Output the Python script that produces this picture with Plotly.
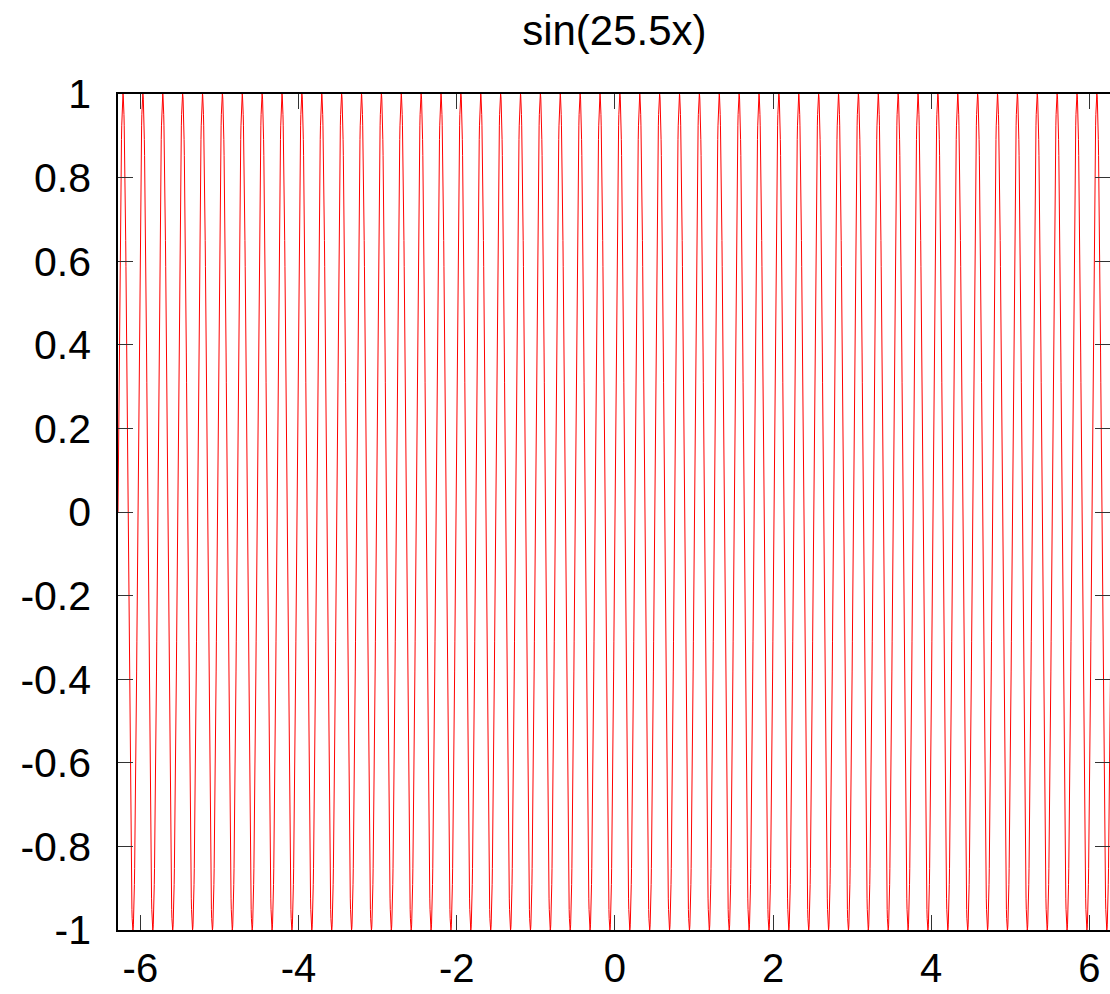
import numpy as np
import plotly.graph_objects as go

# Curve definition and axis annotations
title_text = "sin(25.5x)"
angular_freq = 25.0          # oscillation rate of the drawn curve
x_start, x_stop = -2 * np.pi, 2 * np.pi
n_samples = 4001

x_tick_vals = [-6, -4, -2, 0, 2, 4, 6]
x_tick_text = ["-6", "-4", "-2", "0", "2", "4", "6"]
y_tick_vals = [-1, -0.8, -0.6, -0.4, -0.2, 0, 0.2, 0.4, 0.6, 0.8, 1]
y_tick_text = ["-1", "-0.8", "-0.6", "-0.4", "-0.2", "0", "0.2", "0.4", "0.6", "0.8", "1"]

x = np.linspace(x_start, x_stop, n_samples)
y = np.sin(angular_freq * x)

font_family = "Liberation Sans, Arial, sans-serif"

fig = go.Figure(
    go.Scatter(
        x=x, y=y, mode="lines",
        line=dict(color="#ff0000", width=1),
        hoverinfo="skip", showlegend=False,
    )
)

axis_common = dict(
    showline=True, linecolor="black", linewidth=1.5,
    mirror="ticks", ticks="inside", ticklen=15, tickwidth=1, tickcolor="#333333",
    showgrid=False, zeroline=False, automargin=False,
)

# plot area spans 118..1110 px; 79.08 px per x unit
visible_x_max = x_start + (1110 - 118) / 79.08

fig.update_layout(
    width=1110, height=994,
    margin=dict(l=118, r=0, t=94, b=64, autoexpand=False),
    paper_bgcolor="white", plot_bgcolor="white",
    title=dict(
        text=title_text, x=0.5535, xanchor="center",
        y=1 - 30 / 994, yref="container", yanchor="middle",
        font=dict(family=font_family, size=42, color="black"),
    ),
    xaxis=dict(range=[x_start, visible_x_max], tickvals=x_tick_vals,
               ticktext=x_tick_text, ticklabelstandoff=2,
               tickfont=dict(family=font_family, size=40, color="black"),
               **axis_common),
    yaxis=dict(range=[-1, 1], tickvals=y_tick_vals, ticktext=y_tick_text,
               ticklabelstandoff=17,
               tickfont=dict(family=font_family, size=41, color="black"),
               **axis_common),
)

fig.write_html("out.html")
